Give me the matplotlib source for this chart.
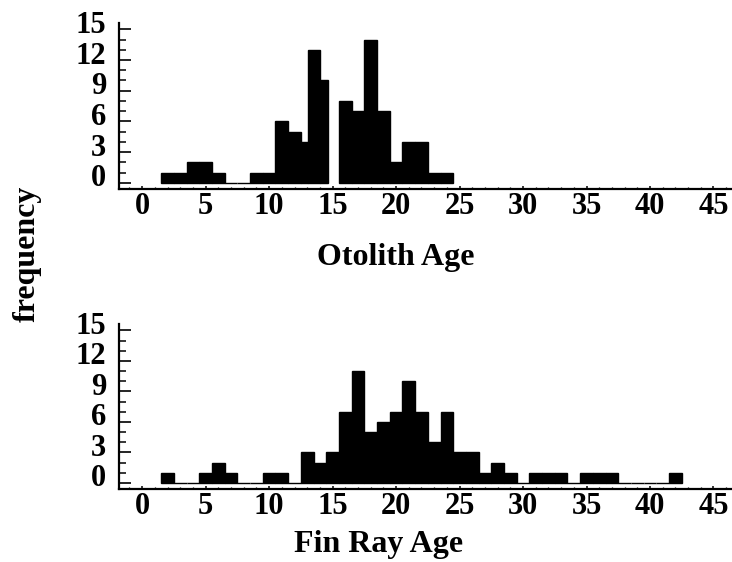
import numpy as np
import matplotlib
matplotlib.use("Agg")
import matplotlib.pyplot as plt
from matplotlib.ticker import MultipleLocator
from matplotlib.transforms import ScaledTranslation

# Otolith ages: bin edges and counts (nan = empty slot, not drawn)
otolith_edges = [1.5, 2.5, 3.5, 4.5, 5.5, 6.5, 7.5, 8.5, 9.5, 10.5, 11.5, 12.5,
                 13.1, 14.0, 14.6, 15.5, 16.5, 17.5, 18.5, 19.5, 20.5, 21.5,
                 22.5, 23.5, 24.5]
otolith_counts = [1, 1, 2, 2, 1, 0, 0, 1, 1, 6, 5, 4,
                  13, 10, np.nan, 8, 7, 14, 7, 2, 4, 4, 1, 1]

# Fin ray ages: one-year bins centred on integer ages
finray_ages = list(range(2, 43))
finray_counts = [1, 0, 0, 1, 2, 1, 0, 0, 1, 1, 0, 3, 2, 3, 7, 11, 5, 6, 7, 10,
                 7, 4, 7, 3, 3, 1, 2, 1, 0, 1, 1, 1, 0, 1, 1, 1, 0, 0, 0, 0, 1]

x_ticks = list(range(0, 50, 5))
y_ticks = [0, 3, 6, 9, 12, 15]

FONT = "Liberation Serif"
FS_TICK = 22
FS_LABEL = 23

fig = plt.figure(figsize=(7.32, 5.62), dpi=100)
ax_top = fig.add_axes([0.163, 0.6637, 0.836, 0.2948])
ax_bot = fig.add_axes([0.163, 0.1299, 0.836, 0.2936])


def draw_hist(ax, edges, counts):
    edges = np.asarray(edges, float)
    counts = np.asarray(counts, float)
    lefts = edges[:-1]
    widths = np.diff(edges)
    keep = ~np.isnan(counts)
    ax.bar(lefts[keep], counts[keep], width=widths[keep], align="edge",
           color="black", edgecolor="black", linewidth=1.0)


def style_axes(ax, ymax):
    ax.set_xlim(-1.8, 46.4)
    ax.set_ylim(-0.59, ymax)
    for side in ("top", "right"):
        ax.spines[side].set_visible(False)
    for side in ("left", "bottom"):
        ax.spines[side].set_linewidth(1.6)
    ax.set_xticks(x_ticks)
    ax.xaxis.set_minor_locator(MultipleLocator(1))
    ax.set_yticks(y_ticks)
    ax.yaxis.set_minor_locator(MultipleLocator(1))
    ax.tick_params(axis="x", which="major", direction="in", length=2.5,
                   width=1.1, pad=2.5)
    ax.tick_params(axis="x", which="minor", direction="in", length=1.2,
                   width=0.9)
    ax.tick_params(axis="y", which="major", direction="in", length=8.5,
                   width=1.2, pad=9.5)
    ax.tick_params(axis="y", which="minor", direction="in", length=5,
                   width=1.1)
    for lab in ax.get_xticklabels() + ax.get_yticklabels():
        lab.set_fontfamily(FONT)
        lab.set_fontweight("bold")
        lab.set_fontsize(FS_TICK)
    shift = ScaledTranslation(0, 5.4 / 72, fig.dpi_scale_trans)
    for lab in ax.get_yticklabels():
        lab.set_transform(lab.get_transform() + shift)


finray_edges = [a - 0.5 for a in finray_ages] + [finray_ages[-1] + 0.5]

draw_hist(ax_top, otolith_edges, otolith_counts)
draw_hist(ax_bot, finray_edges, finray_counts)
style_axes(ax_top, 15.58)
style_axes(ax_bot, 15.63)

fig.text(395.5 / 732, 1 - 265 / 562, "Otolith Age", ha="center", va="baseline",
         fontfamily=FONT, fontweight="bold", fontsize=FS_LABEL)
fig.text(379 / 732, 1 - 552 / 562, "Fin Ray Age", ha="center", va="baseline",
         fontfamily=FONT, fontweight="bold", fontsize=FS_LABEL)
fig.text(27 / 732, 1 - 254 / 562, "frequency", ha="center", va="center",
         rotation=90, fontfamily=FONT, fontweight="bold", fontsize=FS_LABEL)

fig.savefig("out.png", dpi=100)
